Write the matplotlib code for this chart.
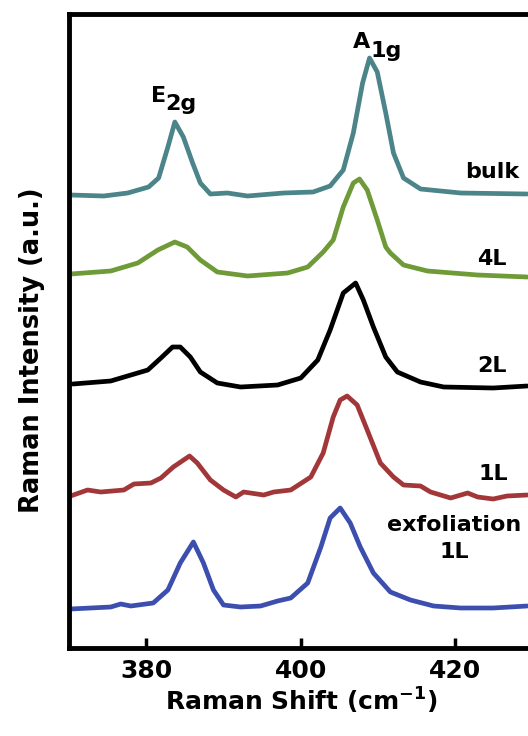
import matplotlib
matplotlib.use("Agg")
import matplotlib.pyplot as plt

plt.rcParams['font.family'] = ['DejaVu Sans']
plt.rcParams['mathtext.fontset'] = 'dejavusans'
plt.rcParams['mathtext.default'] = 'bf'

# ---- data (Raman shift in cm^-1, intensity in arbitrary units) ----
bulk_x = [370.2, 374.5, 377.6, 380.3, 381.6, 382.8, 383.7, 384.8, 386.0, 387.0, 388.3,
          390.5, 393.1, 397.8, 401.6, 403.8, 405.5, 406.8, 408.0, 408.9, 409.9, 411.0,
          412.0, 413.3, 415.5, 420.7, 429.3]
bulk_y = [0, -1, 2, 8, 17, 48, 73, 58, 32, 12, 1, 2, -1, 2, 3, 9, 25, 62, 112, 137, 123,
          82, 42, 17, 6, 2, 1]

l4_x = [370.2, 375.4, 378.9, 381.5, 383.7, 385.3, 387.0, 389.2, 393.1, 398.3, 400.9,
        402.9, 404.2, 405.5, 406.8, 407.6, 408.6, 409.9, 411.0, 411.6, 413.3, 416.4,
        422.9, 429.3]
l4_y = [0, 3, 11, 24, 32, 27, 14, 2, -2, 1, 7, 22, 34, 67, 91, 95, 84, 54, 27, 21, 9, 3,
        -1, -3]

l2_x = [370.5, 375.4, 380.2, 381.9, 383.4, 384.4, 385.7, 387.0, 389.2, 392.2, 397.0,
        400.0, 402.2, 403.8, 405.5, 407.1, 408.1, 409.4, 411.0, 412.5, 415.5, 418.5,
        424.9, 429.3]
l2_y = [0, 3, 14, 26, 37, 37, 27, 12, 1, -3, -1, 6, 24, 54, 91, 101, 84, 57, 27, 12, 2,
        -3, -4, -2]

l1_x = [370.2, 372.4, 374.1, 377.1, 378.4, 380.6, 381.9, 383.5, 385.6, 386.6, 388.3,
        390.0, 391.6, 392.6, 395.2, 396.5, 398.7, 401.3, 402.9, 404.2, 405.1, 406.0,
        407.3, 408.6, 410.3, 412.0, 413.3, 415.5, 416.8, 419.4, 421.6, 422.9, 424.9,
        426.7, 429.3]
l1_y = [0, 6, 4, 6, 12, 13, 18, 29, 40, 33, 16, 6, -1, 4, 1, 4, 6, 19, 43, 79, 96, 100,
        91, 66, 33, 19, 11, 10, 4, -2, 3, -1, -3, 0, 1]

ex_x = [370.2, 375.4, 376.7, 378.0, 380.9, 382.8, 384.4, 386.1, 387.4, 388.7, 390.0,
        392.2, 394.8, 397.0, 398.7, 400.9, 402.6, 403.8, 405.1, 406.4, 407.7, 409.4,
        411.6, 414.2, 417.2, 420.7, 424.9, 429.3]
ex_y = [0, 2, 5, 3, 6, 19, 46, 67, 46, 19, 4, 2, 3, 8, 11, 26, 62, 91, 101, 86, 62, 36,
        17, 9, 3, 1, 1, 3]

series_labels = ['bulk', '4L', '2L', '1L', 'exfoliation\n1L']
offsets = [453, 374, 264, 152, 39]
colors = ['#4b8489', '#6e9a37', '#000000', '#a2373a', '#3d4fae']

fig = plt.figure(figsize=(5.28, 7.36), dpi=100)
ax = fig.add_axes([69/528, 88/736, 479/528, 634/736])

xs = [bulk_x, l4_x, l2_x, l1_x, ex_x]
ys = [bulk_y, l4_y, l2_y, l1_y, ex_y]
for x, y, off, c in zip(xs, ys, offsets, colors):
    ax.plot(x, [v + off for v in y], color=c, lw=3.4, solid_joinstyle='round',
            solid_capstyle='round')

ax.set_xlim(370, 432)
ax.set_ylim(0, 634)

for s in ax.spines.values():
    s.set_linewidth(3.5)
ax.spines['right'].set_visible(False)

ax.set_xticks([380, 400, 420])
ax.set_yticks([])
ax.tick_params(axis='x', direction='in', length=7, width=2.5, pad=8, labelsize=18)
for t in ax.get_xticklabels():
    t.set_fontweight('bold')

ax.set_xlabel(r'Raman Shift (cm$^{-1}$)', fontsize=18, fontweight='bold')
ax.xaxis.set_label_coords(0.486, -0.06)
ax.set_ylabel('Raman Intensity (a.u.)', fontsize=18.5, fontweight='bold')
ax.yaxis.set_label_coords(-0.05, 0.47)

# peak annotations
def pxdata(px, py):
    return ax.transData.inverted().transform(
        ax.transAxes.transform(((px - 69) / 479, (648 - py) / 634)))

tfs = 16
ax.text(*pxdata(151, 102), 'E', fontsize=tfs, fontweight='bold', ha='left', va='baseline')
ax.text(*pxdata(165, 110), '2g', fontsize=tfs, fontweight='bold', ha='left', va='baseline')
ax.text(*pxdata(353, 48), 'A', fontsize=tfs, fontweight='bold', ha='left', va='baseline')
ax.text(*pxdata(371, 57), '1g', fontsize=tfs, fontweight='bold', ha='left', va='baseline')

label_pos = [(492, 178), (492, 265), (492, 372), (493, 480), (454, 558)]
for (px, py), lab in zip(label_pos, series_labels):
    ax.text(*pxdata(px, py), lab, fontsize=tfs, fontweight='bold', ha='center',
            va='baseline', linespacing=1.45, multialignment='center')

fig.savefig('out.png', dpi=100)
